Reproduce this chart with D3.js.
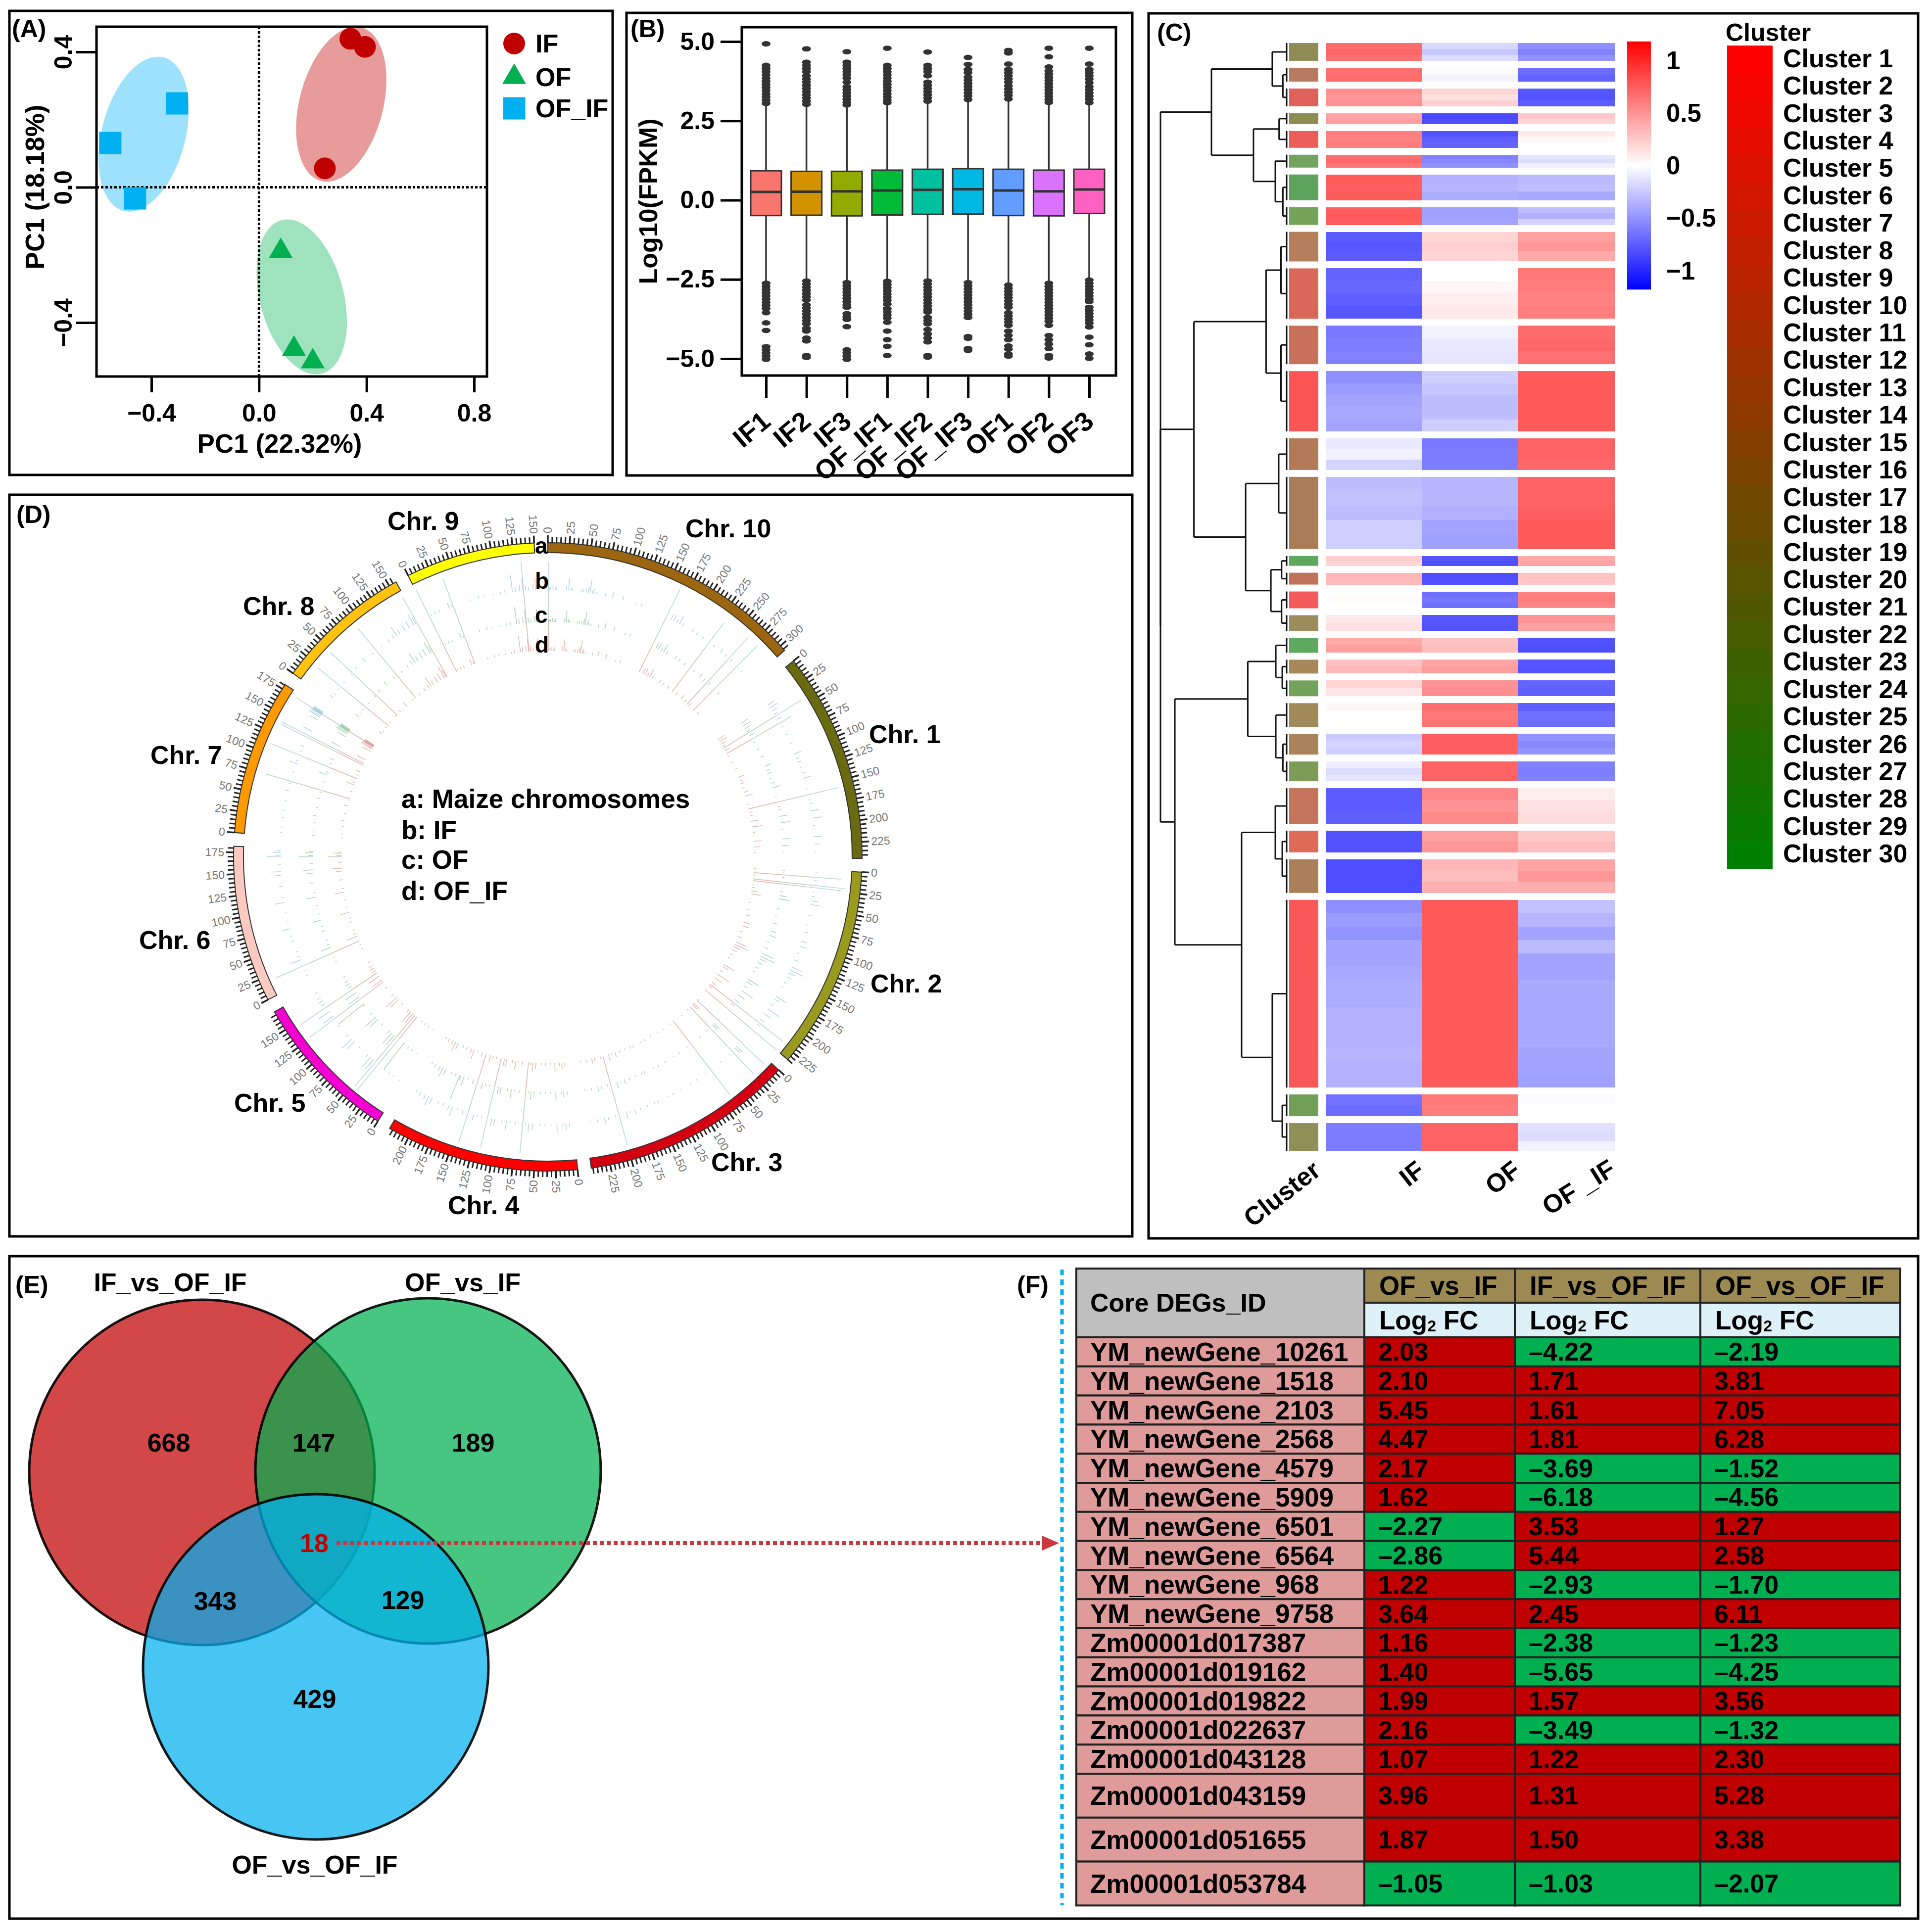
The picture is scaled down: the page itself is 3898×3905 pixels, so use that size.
<!DOCTYPE html>
<html><head><meta charset="utf-8">
<script src="https://cdn.jsdelivr.net/npm/d3@7/dist/d3.min.js"></script>
<style>html,body{margin:0;padding:0;background:#fff}svg{display:block}text{font-family:"Liberation Sans",Arial,sans-serif;font-weight:700;fill:#000}</style>
</head><body><svg id="c" width="3898" height="3905"></svg>
<script>
// ---------- (A) PCA ----------
const pcaGroups=["IF","OF","OF_IF"];
const pcaX=[[0.34,0.394,0.245],[0.081,0.13,0.20],[-0.305,-0.553,-0.461]];
const pcaY=[[0.439,0.415,0.056],[-0.189,-0.478,-0.515],[0.248,0.131,-0.033]];
const ellCx=[0.306,0.159,-0.429], ellCy=[0.2455,-0.324,0.157];
const ellHx=0.168, ellHy=0.229, ellTiltDeg=[18.5,-18.5,18.5];
const pcaTicksX=[-0.4,0,0.4,0.8], pcaTicksY=[-0.4,0,0.4];
// ---------- (B) boxes ----------
const sampleNames=["IF1","IF2","IF3","OF_IF1","OF_IF2","OF_IF3","OF1","OF2","OF3"];
const boxQ1=[-.487,-.477,-.496,-.468,-.449,-.439,-.487,-.496,-.42];
const boxMed=[.258,.267,.277,.305,.324,.344,.305,.277,.334];
const boxQ3=[.926,.907,.907,.945,.973,.992,.973,.945,.973];
const whiskHi=[3.02,2.97,2.98,3.03,3.07,3.12,3.14,3.04,3.03];
const whiskLo=[-2.58,-2.51,-2.56,-2.54,-2.51,-2.56,-2.64,-2.58,-2.49];
const outHi=[
[4.93,4.25,4.15,4.05,3.95,3.85,3.75,3.65,3.55,3.45,3.35,3.25,3.15,3.05],
[4.77,4.35,4.25,4.15,4.05,3.92,3.82,3.72,3.62,3.52,3.42,3.32,3.22,3.12,3.02],
[4.68,4.35,4.25,4.15,4.05,3.95,3.85,3.72,3.58,3.48,3.38,3.28,3.18,3.08,3.0],
[4.79,4.25,4.15,4.05,3.95,3.85,3.75,3.65,3.55,3.45,3.35,3.25,3.15,3.07],
[4.67,4.25,4.15,4.05,3.92,3.72,3.62,3.52,3.42,3.32,3.22,3.12],
[4.5,4.28,4.12,4.02,3.88,3.78,3.68,3.58,3.48,3.38,3.28,3.17],
[4.72,4.64,4.29,4.12,4.02,3.92,3.82,3.72,3.6,3.5,3.4,3.3,3.19],
[4.79,4.52,4.2,4.07,3.97,3.87,3.77,3.67,3.57,3.47,3.37,3.27,3.17,3.08],
[4.79,4.29,4.12,4.02,3.92,3.82,3.7,3.58,3.48,3.38,3.28,3.18,3.07]];
const outLo=[
[-2.62,-2.72,-2.82,-2.92,-3.02,-3.12,-3.22,-3.32,-3.42,-3.55,-3.87,-4.11,-4.62,-4.72,-4.82,-4.92,-5.02],
[-2.55,-2.65,-2.75,-2.85,-2.95,-3.05,-3.15,-3.3,-3.4,-3.5,-3.6,-3.7,-3.8,-3.9,-4.04,-4.13,-4.35,-4.44,-4.9,-4.96],
[-2.6,-2.7,-2.8,-2.9,-3,-3.1,-3.2,-3.3,-3.38,-3.58,-3.68,-3.76,-3.99,-4.72,-4.82,-4.92,-5.02],
[-2.56,-2.66,-2.76,-2.86,-2.96,-3.06,-3.16,-3.28,-3.42,-3.52,-3.62,-3.72,-3.85,-4.13,-4.4,-4.61,-4.9],
[-2.55,-2.65,-2.75,-2.85,-2.95,-3.05,-3.15,-3.25,-3.35,-3.45,-3.53,-3.7,-3.8,-3.9,-4.08,-4.22,-4.35,-4.47,-4.9,-4.95],
[-2.6,-2.7,-2.8,-2.9,-3,-3.1,-3.2,-3.3,-3.4,-3.5,-3.6,-3.7,-4.3,-4.36,-4.68,-4.74],
[-2.68,-2.78,-2.88,-2.98,-3.08,-3.18,-3.28,-3.38,-3.55,-3.65,-3.75,-3.85,-3.95,-4.13,-4.27,-4.4,-4.6,-4.7,-4.85,-4.92],
[-2.62,-2.72,-2.82,-2.92,-3.02,-3.12,-3.22,-3.32,-3.42,-3.52,-3.62,-3.72,-3.82,-3.95,-4.27,-4.4,-4.54,-4.68,-4.9,-4.98],
[-2.52,-2.62,-2.72,-2.82,-2.92,-3.02,-3.12,-3.2,-3.38,-3.48,-3.58,-3.68,-3.78,-3.88,-4.0,-4.32,-4.56,-4.85,-4.99]];
const boxTicks=[-5,-2.5,0,2.5,5];
const boxColors=["#F8766D","#D39200","#93AA00","#00BA38","#00C19F","#00B9E3","#619CFF","#DB72FB","#FF61C3"];
// ---------- (C) heatmap ----------
const heatCols=["IF","OF","OF_IF"];
const geneCounts=[18,14,18,11,17,13,26,18,30,51,39,61,32,73,10,12,17,16,15,14,16,24,21,20,36,22,34,190,22,28];
const clusterFill=["#8f8c55","#b87a5f","#e0605a","#8e8c50","#ea5f5a","#74a35f","#5ea45c","#74a35a","#b47f5a","#da6859","#c7705a","#fb5555","#b37a58","#ab7c58","#5fa75f","#c0735a","#f55a5a","#9c8c5c","#5fa85f","#a6885a","#72a25c","#a18a5a","#a9845a","#7d9c58","#c4745a","#de6a58","#ab7f5a","#fa5858","#729f58","#8f8f58"];
const heatRows=[
[[.68,-.18,-.52],[.7,-.26,-.58],[.66,-.16,-.5]],
[[.66,-.02,-.68],[.68,-.05,-.72]],
[[.52,.2,-.78],[.48,.14,-.8],[.5,.22,-.75]],
[[.42,-.84,.26],[.44,-.82,.2]],
[[.6,-.8,.1],[.58,-.74,.03],[.6,-.72,0]],
[[.66,-.58,-.12],[.7,-.56,-.16],[.64,-.52,-.08]],
[[.76,-.36,-.32],[.74,-.34,-.3],[.76,-.38,-.4]],
[[.74,-.44,-.3],[.76,-.44,-.36],[.74,-.42,-.2]],
[[-.76,.2,.44],[-.78,.22,.48],[-.76,.2,.4]],
[[-.72,0,.62],[-.7,.04,.6],[-.74,.08,.58],[-.78,.1,.6]],
[[-.62,-.06,.68],[-.6,-.1,.7],[-.58,-.12,.66]],
[[-.52,-.22,.76],[-.46,-.26,.76],[-.42,-.3,.76],[-.4,-.3,.76],[-.42,-.22,.76]],
[[-.1,-.62,.72],[-.06,-.6,.72],[-.2,-.6,.7]],
[[-.3,-.34,.72],[-.28,-.34,.72],[-.3,-.36,.74],[-.22,-.42,.76],[-.22,-.44,.76]],
[[.22,-.8,.4],[.2,-.82,.42]],
[[.34,-.82,.28],[.32,-.8,.26]],
[[0,-.66,.58],[.02,-.64,.6],[0,-.66,.56]],
[[.1,-.78,.5],[.14,-.8,.44]],
[[.4,.28,-.8],[.44,.3,-.82]],
[[.28,.42,-.78],[.34,.46,-.8]],
[[.2,.5,-.72],[.12,.52,-.74]],
[[.04,.66,-.74],[0,.62,-.66],[0,.64,-.68]],
[[-.24,.74,-.5],[-.2,.74,-.55],[-.22,.74,-.5]],
[[-.08,.72,-.58],[-.16,.72,-.6],[-.12,.72,-.58]],
[[-.76,.56,.08],[-.76,.5,.14],[-.74,.54,.16]],
[[-.8,.44,.26],[-.8,.48,.3]],
[[-.82,.34,.42],[-.82,.3,.48],[-.82,.36,.38]],
[[-.52,.76,-.28],[-.46,.76,-.34],[-.5,.76,-.42],[-.42,.76,-.32],[-.42,.76,-.42],[-.4,.76,-.42],[-.38,.76,-.4],[-.38,.76,-.4],[-.36,.76,-.4],[-.36,.76,-.4],[-.36,.76,-.4],[-.34,.76,-.42],[-.36,.76,-.42],[-.36,.76,-.44]],
[[-.65,.62,-.02],[-.68,.6,0]],
[[-.6,.72,-.14],[-.6,.72,-.16],[-.6,.72,-.06]]];
const dendroTree=[1,
 [.596,[.114,0,[.03,1,2]],[.263,[.06,3,4],[.09,5,[.03,6,7]]]],
 [1,[.735,[.163,[.045,8,9],[.045,10,11]],[.325,[.063,12,13],[.125,[.04,14,15],[.04,16,17]]]],
    [.886,[.308,[.086,18,[.035,19,20]],[.086,21,[.03,22,23]]],[.357,[.09,24,[.035,25,26]],[.114,27,[.035,28,29]]]]]];
const heatLegendTicks=[1,.5,0,-.5,-1];
// ---------- (D) circos ----------
const chrNames=["Chr. 10","Chr. 1","Chr. 2","Chr. 3","Chr. 4","Chr. 5","Chr. 6","Chr. 7","Chr. 8","Chr. 9"];
const chrLengths=[307,244,235,247,224,174,182,181,159,150];
const chrColors=["#9c6510","#6a6a10","#9a9a1f","#d40012","#ff0000","#f400d0","#fdcac2","#ff9900","#ffc30f","#ffff00"];
const shortHits=[
[[2,6],[4,5],[7,8],[10,4],[12,8],[25,8],[28,24],[31,8],[33,5],[45,5],[48,6],[52,8],[55,12],[57,26],[60,6],[62,10],[66,5],[78,6],[88,12],[102,10],[120,4],[128,6],[172,12],[176,14],[181,8],[185,18],[190,6],[205,8],[212,6],[222,6],[240,6],[252,10],[260,5],[270,8],[290,5]],
[[25,16],[30,18],[35,12],[40,8],[48,10],[60,4],[72,4],[85,6],[100,14],[107,6],[112,8],[120,4],[128,8],[135,16],[150,3],[165,4],[170,6],[180,16],[190,20],[200,4],[215,16],[225,12],[235,3]],
[[3,5],[7,3],[14,5],[30,3],[36,6],[42,14],[47,20],[62,4],[75,4],[85,8],[98,12],[105,14],[115,4],[125,8],[135,24],[140,30],[144,14],[150,10],[158,6],[165,4],[180,24],[184,12],[192,6],[200,28],[208,16],[217,10],[225,8]],
[[5,4],[15,16],[18,14],[30,3],[45,4],[70,3],[85,4],[95,3],[110,4],[122,5],[130,3],[145,6],[150,5],[160,4],[170,6],[178,10],[185,4],[190,14],[205,5],[215,6],[220,10],[230,6],[240,4]],
[[5,8],[10,14],[14,6],[22,18],[30,3],[38,5],[45,4],[55,12],[60,18],[64,5],[78,6],[85,4],[90,18],[96,5],[106,14],[110,16],[124,4],[130,6],[135,14],[150,8],[158,3],[165,20],[170,10],[178,6],[185,6],[195,14],[200,20],[205,10],[212,8],[218,5]],
[[5,3],[15,4],[22,5],[30,3],[50,26],[55,28],[60,6],[75,4],[85,22],[90,28],[98,6],[115,6],[130,24],[138,26],[150,8],[155,10],[160,8],[168,6]],
[[5,4],[12,3],[28,22],[33,6],[40,4],[55,6],[62,4],[72,18],[82,4],[95,3],[108,20],[115,4],[130,8],[145,12],[150,20],[160,6],[170,28],[172,10],[176,16],[178,8]],
[[5,4],[12,3],[25,3],[35,6],[48,4],[62,8],[72,3],[88,4],[100,18],[104,6],[118,4],[125,8],[148,20],[165,18],[170,26],[172,24],[174,24],[175,22],[176,20],[177,22],[178,22]],
[[5,8],[10,3],[18,4],[30,3],[45,4],[55,6],[70,10],[85,4],[100,4],[112,6],[120,8],[125,22],[130,10],[138,14],[145,16],[152,26],[155,16]],
[[4,4],[10,6],[16,5],[30,12],[34,6],[60,4],[72,6],[80,4],[92,3],[102,4],[108,6],[118,34],[122,10],[128,12],[132,26],[136,10],[140,6],[146,12],[149,26]]];
const longHits=[
[[1,180,0],[165,186,0],[232,176,0],[266,182,0],[281,185,0]],
[[43,185,0],[54,150,0],[158,186,0]],
[[10,177,0],[21,186,0],[24,179,0],[222,187,0],[235,188,0]],
[[7,188,0],[24,188,0],[62,188,0],[200,187,0]],
[[68,185,0],[116,186,0],[143,188,0],[172,111,1]],
[[31,125,1],[41,191,0],[46,188,0],[117,124,1],[126,187,0],[145,186,0]],
[[19,184,0],[139,56,2]],
[[75,177,0],[112,187,0],[138,185,0],[141,185,0],[175,185,0]],
[[23,185,0],[47,186,0],[91,184,0],[157,184,0]],
[[1,184,0],[36,184,0],[133,183,0]]];
const trackNames=["d","c","b"];
const trackColors=["#cf877d","#74b48a","#7cb6cb"];
const longColors=["#ddb0aa","#b6cdba","#b4d3db"];
const circosLegend=["a: Maize chromosomes","b: IF","c: OF","d: OF_IF"];
// ---------- (E) Venn ----------
const vennSets=["IF_vs_OF_IF","OF_vs_IF","OF_vs_OF_IF"];
const vennCounts=[668,147,189,18,343,129,429];
// ---------- (F) table ----------
const geneIds=["YM_newGene_10261","YM_newGene_1518","YM_newGene_2103","YM_newGene_2568","YM_newGene_4579","YM_newGene_5909","YM_newGene_6501","YM_newGene_6564","YM_newGene_968","YM_newGene_9758","Zm00001d017387","Zm00001d019162","Zm00001d019822","Zm00001d022637","Zm00001d043128","Zm00001d043159","Zm00001d051655","Zm00001d053784"];
const ofVsIf=[2.03,2.10,5.45,4.47,2.17,1.62,-2.27,-2.86,1.22,3.64,1.16,1.40,1.99,2.16,1.07,3.96,1.87,-1.05];
const ifVsOfIf=[-4.22,1.71,1.61,1.81,-3.69,-6.18,3.53,5.44,-2.93,2.45,-2.38,-5.65,1.57,-3.49,1.22,1.31,1.50,-1.03];
const ofVsOfIf=[-2.19,3.81,7.05,6.28,-1.52,-4.56,1.27,2.58,-1.70,6.11,-1.23,-4.25,3.56,-1.32,2.30,5.28,3.38,-2.07];
const tableHeads=["OF_vs_IF","IF_vs_OF_IF","OF_vs_OF_IF"];

// ========== drawing ==========
const svg=d3.select("#c");
function txt(g,x,y,s,size,anchor,rot,fill){
  const t=g.append("text").attr("font-size",size).attr("text-anchor",anchor||"start").attr("dominant-baseline","central").text(s);
  t.attr("transform",`translate(${x},${y})`+(rot?` rotate(${rot})`:""));
  if(fill)t.style("fill",fill);
  return t;
}
function frame(x0,y0,x1,y1){svg.append("rect").attr("x",x0).attr("y",y0).attr("width",x1-x0).attr("height",y1-y0).attr("fill","none").attr("stroke","#000").attr("stroke-width",5);}
frame(19,22,1238,960);frame(1266,26,2288,961);frame(2321,27,3876,2503);frame(19,1000,2288,2499);frame(19,2539,3876,3878);
txt(svg,24,58,"(A)",50);txt(svg,1274,58,"(B)",50);txt(svg,2338,66,"(C)",50);txt(svg,33,1040,"(D)",50);txt(svg,31,2597,"(E)",50);txt(svg,2055,2597,"(F)",50);

// --- A
(function(){
 const g=svg.append("g");
 const x=d3.scaleLinear([-0.4,0.8],[306,958]), y=d3.scaleLinear([-0.4,0.4],[652,105]);
 const pcaFill=["#c00000","#00b050","#00b0f0"], ellFill=["#e89b9b","#9ee3bd","#9de1fd"];
 const L=195,R=984,T=54,B=761;
 const ts=d3.range(0,2*Math.PI+.01,.04);
 pcaGroups.forEach((n,i)=>{
   const th=ellTiltDeg[i]*Math.PI/180;
   const line=d3.line().x(t=>x(ellCx[i]+ellHx*Math.cos(t))).y(t=>y(ellCy[i]+ellHy*Math.sin(t+th))).curve(d3.curveLinearClosed);
   g.append("path").attr("d",line(ts)).attr("fill",ellFill[i]);
 });
 g.append("line").attr("x1",x(0)).attr("x2",x(0)).attr("y1",T).attr("y2",B).attr("stroke","#000").attr("stroke-width",5).attr("stroke-dasharray","5 4");
 g.append("line").attr("x1",L).attr("x2",R).attr("y1",y(0)).attr("y2",y(0)).attr("stroke","#000").attr("stroke-width",5).attr("stroke-dasharray","5 4");
 const sym=[d3.symbol(d3.symbolCircle,1520),d3.symbol(d3.symbolTriangle,1000),d3.symbol(d3.symbolSquare,2025)];
 pcaGroups.forEach((n,i)=>{
   g.selectAll(null).data(pcaX[i]).enter().append("path").attr("d",sym[i]()).attr("fill",pcaFill[i])
     .attr("transform",(d,j)=>`translate(${x(d)},${y(pcaY[i][j])})`);
   g.append("path").attr("d",sym[i]()).attr("fill",pcaFill[i]).attr("transform",`translate(1039,${[88,156,219][i]})`);
   txt(g,1082,[88,156,219][i],n,52);
 });
 g.append("rect").attr("x",L).attr("y",T).attr("width",R-L).attr("height",B-T).attr("fill","none").attr("stroke","#000").attr("stroke-width",5);
 const ax=g.append("g").attr("transform",`translate(0,${B})`).call(d3.axisBottom(x).tickValues(pcaTicksX).tickFormat(d3.format(".1f")).tickSize(32).tickPadding(23));
 ax.select(".domain").remove();ax.selectAll("line").attr("stroke","#000").attr("stroke-width",5);ax.selectAll("text").attr("font-size",50);
 const ay=g.append("g").attr("transform",`translate(${L},0)`).call(d3.axisLeft(y).tickValues(pcaTicksY).tickFormat(d3.format(".1f")).tickSize(41).tickPadding(0));
 ay.select(".domain").remove();ay.selectAll("line").attr("stroke","#000").attr("stroke-width",5);
 ay.selectAll("text").attr("font-size",50).attr("text-anchor","middle").attr("dominant-baseline","central").attr("dy",null).attr("x",null)
   .attr("transform",d=>`translate(-67,0) rotate(-90)`);
 txt(g,565,896,"PC1 (22.32%)",53,"middle");
 txt(g,70,378,"PC1 (18.18%)",53,"middle",-90);
})();

// --- B
(function(){
 const g=svg.append("g");
 const x=d3.scalePoint(sampleNames,[1548,2201]), y=d3.scaleLinear([-5,5],[725,84]);
 const bw=62;
 sampleNames.forEach((n,i)=>{
  const cx=x(n);
  g.append("line").attr("x1",cx).attr("x2",cx).attr("y1",y(whiskHi[i])).attr("y2",y(whiskLo[i])).attr("stroke","#333").attr("stroke-width",3.5);
  g.selectAll(null).data(outHi[i].concat(outLo[i])).enter().append("ellipse").attr("cx",cx).attr("cy",d=>y(d)).attr("rx",9).attr("ry",5.5).attr("fill","#333");
  g.append("rect").attr("x",cx-bw/2).attr("y",y(boxQ3[i])).attr("width",bw).attr("height",y(boxQ1[i])-y(boxQ3[i])).attr("fill",boxColors[i]).attr("stroke","#333").attr("stroke-width",3);
  g.append("line").attr("x1",cx-bw/2).attr("x2",cx+bw/2).attr("y1",y(boxMed[i])).attr("y2",y(boxMed[i])).attr("stroke","#333").attr("stroke-width",5);
 });
 g.append("rect").attr("x",1499).attr("y",55).attr("width",756).attr("height",704).attr("fill","none").attr("stroke","#000").attr("stroke-width",5);
 const ax=g.append("g").attr("transform","translate(0,759)").call(d3.axisBottom(x).tickSize(45));
 ax.select(".domain").remove();ax.selectAll("line").attr("stroke","#000").attr("stroke-width",5);
 ax.selectAll("text").attr("font-size",54).attr("text-anchor","end").attr("dominant-baseline","auto").attr("dy",null).attr("y",null)
  .attr("transform",()=>"translate(12,98) rotate(-40)");
 const ay=g.append("g").attr("transform","translate(1499,0)").call(d3.axisLeft(y).tickValues(boxTicks).tickFormat(d3.format(".1f")).tickSize(43).tickPadding(12));
 ay.select(".domain").remove();ay.selectAll("line").attr("stroke","#000").attr("stroke-width",5);ay.selectAll("text").attr("font-size",50);
 txt(g,1310,407,"Log10(FPKM)",52,"middle",-90);
})();

// --- C
(function(){
 const g=svg.append("g");
 const colorOf=d3.scaleLinear([-1.18,0,1.18],["#0000ff","#ffffff","#ff0000"]);
 const gap=14, top=87, bottom=2326;
 const total=d3.sum(geneCounts);
 const yC=d3.scaleLinear([0,total],[0,bottom-top-gap*(geneCounts.length-1)]);
 let acc=0; const grp=geneCounts.map((c,i)=>{const a=top+yC(acc)+i*gap;acc+=c;return{top:a,bot:top+yC(acc)+i*gap};});
 const colX=d3.scaleBand(heatCols,[2679,3263]);
 grp.forEach((b,i)=>{
  g.append("rect").attr("x",2605).attr("width",59).attr("y",b.top).attr("height",b.bot-b.top).attr("fill",clusterFill[i]);
  const rows=heatRows[i], rh=(b.bot-b.top)/rows.length;
  rows.forEach((r,k)=>heatCols.forEach((c,j)=>{
    g.append("rect").attr("x",colX(c)).attr("width",colX.bandwidth()).attr("y",b.top+k*rh).attr("height",rh+(k<rows.length-1?.6:0)).attr("fill",colorOf(r[j])).attr("shape-rendering","crispEdges");
  }));
 });
 // dendrogram
 const hx=d3.scaleLinear([0,1],[2600,2345]);
 const st={fill:"none",stroke:"#111","stroke-width":3};
 function seg(x1,y1,x2,y2){const l=g.append("line").attr("x1",x1).attr("x2",x2).attr("y1",y1).attr("y2",y2);Object.entries(st).forEach(([k,v])=>l.attr(k,v));}
 function walk(n){
   if(typeof n==="number"){const b=grp[n];seg(2600,b.top,2600,b.bot);return{x:2600,y:(b.top+b.bot)/2};}
   const a=walk(n[1]),c=walk(n[2]),X=hx(n[0]);
   seg(X,a.y,X,c.y);seg(X,a.y,a.x,a.y);seg(X,c.y,c.x,c.y);
   return{x:X,y:(a.y+c.y)/2};
 }
 walk(dendroTree);
 // colour legend
 const defs=svg.append("defs");const lg=defs.append("linearGradient").attr("id","hg").attr("x1",0).attr("x2",0).attr("y1",0).attr("y2",1);
 [1.18,0,-1.18].forEach((v,i)=>lg.append("stop").attr("offset",i/2).attr("stop-color",colorOf(v)));
 const ly=d3.scaleLinear([-1,1],[547,122]);
 g.append("rect").attr("x",3288).attr("y",ly(1.18)).attr("width",48).attr("height",ly(-1.18)-ly(1.18)).attr("fill","url(#hg)");
 heatLegendTicks.forEach(t=>txt(g,3367,ly(t),d3.format("")(t),51));
 // cluster legend
 txt(g,3487,66,"Cluster",50);
 const cy=d3.scaleBand(d3.range(1,31),[92,1755]);
 const cc=d3.scaleLinear([1,30],["#ff0000","#008000"]);
 cy.domain().forEach(k=>{
   g.append("rect").attr("x",3490).attr("width",92).attr("y",cy(k)).attr("height",cy.bandwidth()+.5).attr("fill",cc(k)).attr("shape-rendering","crispEdges");
   txt(g,3603,cy(k)+cy.bandwidth()/2-2,"Cluster "+k,52);
 });
 // column labels
 const lab=(x,s,a)=>g.append("text").attr("font-size",52).attr("text-anchor","end").attr("transform",`translate(${x},2372) rotate(${a})`).text(s);
 lab(2672,"Cluster",-38);
 lab(2882,"IF",-38);lab(3076,"OF",-38);lab(3268,"OF _IF",-32);
})();

// --- D
(function(){
 const g=svg.append("g").attr("transform","translate(1107,1732)");
 const gapDeg=2.5, perMb=(360-gapDeg*chrLengths.length)/d3.sum(chrLengths);
 let a0=0;
 const R0=615,R1=635;
 const rad=d=>d*Math.PI/180;
 const polar=(deg,r)=>[r*Math.sin(rad(deg)),-r*Math.cos(rad(deg))];
 const arc=d3.arc().innerRadius(R0).outerRadius(R1);
 const baseR=[417,475,540];
 function ray(deg,r0,r1,color,w,op){const p=polar(deg,r0),q=polar(deg,r1);
   g.append("line").attr("x1",p[0]).attr("y1",p[1]).attr("x2",q[0]).attr("y2",q[1]).attr("stroke",color).attr("stroke-width",w).attr("opacity",op);}
 chrNames.forEach((n,i)=>{
   const ang=d3.scaleLinear([0,chrLengths[i]],[a0,a0+chrLengths[i]*perMb]);
   a0+=chrLengths[i]*perMb+gapDeg;
   g.append("path").attr("d",arc({startAngle:rad(ang(0)),endAngle:rad(ang(chrLengths[i]))})).attr("fill",chrColors[i]).attr("stroke","#333").attr("stroke-width",2);
   d3.range(0,chrLengths[i]+.1,5).forEach(mb=>{
     const major=mb%25===0; ray(ang(mb),R1,major?650:647,"#222",major?3.5:3,1);
     if(major){
       const d=ang(mb),p=polar(d,654),right=d<180;
       g.append("text").attr("font-size",23).style("font-weight",400).style("fill","#777").attr("text-anchor",right?"start":"end").attr("dominant-baseline","central")
        .attr("transform",`translate(${p[0]},${p[1]}) rotate(${right?d-90:d+90})`).text(mb);
     }
   });
   longHits[i].forEach(h=>{
     const d=ang(h[0]),start=baseR[h[2]],end=baseR[0]+h[1];
     baseR.forEach((b,k)=>{
       const nx=k<2?baseR[k+1]:1e4, s=Math.max(b,start), e=Math.min(nx,end);
       if(e>s)ray(d,s,e,longColors[k],1.7,.85);
     });
   });
   shortHits[i].forEach(h=>{
     baseR.forEach((b,k)=>ray(ang(h[0]),b,b+h[1],trackColors[k],1.6,.55));
   });
 });
 const chrLabelX=[1385,1756,1759,1437,905,473,281,304,491,783],chrLabelY=[1068,1484,1988,2349,2436,2229,1900,1526,1225,1053];
 chrNames.forEach((n,i)=>txt(svg,chrLabelX[i],chrLabelY[i],n,52));
 circosLegend.forEach((s,i)=>txt(svg,811,[1614,1677,1737,1800][i],s,53));
 ["a","b","c","d"].forEach((s,i)=>txt(svg,1081,[1103,1174,1243,1303][i],s,46));
})();

// --- E
(function(){
 const g=svg.append("g");
 const cols=["#c00000","#00b050","#00b0f0"],cx=[408,865,638],cy=[2976,2973,3369];
 vennSets.forEach((n,i)=>g.append("circle").attr("cx",cx[i]).attr("cy",cy[i]).attr("r",349).attr("fill",cols[i]).attr("fill-opacity",.72).attr("stroke","#000").attr("stroke-width",5).attr("stroke-opacity",.9));
 [[344,2592],[935,2592],[636,3769]].forEach((p,i)=>txt(g,p[0],p[1],vennSets[i],52,"middle"));
 const pos=[[341,2916],[634,2916],[956,2916],[635,3119],[435,3236],[814,3234],[636,3434]];
 vennCounts.forEach((c,i)=>txt(g,pos[i][0],pos[i][1],c,52,"middle",0,c===18?"#c00000":null));
 g.append("line").attr("x1",680).attr("x2",2112).attr("y1",3119).attr("y2",3119).attr("stroke","#c8383e").attr("stroke-width",8).attr("stroke-dasharray","8 6");
 g.append("path").attr("d","M2106,3104L2140,3119L2106,3134Z").attr("fill","#c8383e");
 g.append("line").attr("x1",2146).attr("x2",2146).attr("y1",2566).attr("y2",3850).attr("stroke","#00b0f0").attr("stroke-width",7).attr("stroke-dasharray","11 9");
})();

// --- F
(function(){
 const g=svg.append("g");
 const xEdges=[2175,2757,3061,3436,3840];
 const rowTop=[2703];geneIds.forEach((id,i)=>rowTop.push(rowTop[i]+(i<15?58.8:88.8)));
 const cols=[ofVsIf,ifVsOfIf,ofVsOfIf];
 const f=d=>d3.format(".2f")(d).replace("−","–").replace("-","–");
 const border={stroke:"#222","stroke-width":4};
 function cell(x0,y0,x1,y1,fill){const r=g.append("rect").attr("x",x0).attr("y",y0).attr("width",x1-x0).attr("height",y1-y0).attr("fill",fill);Object.entries(border).forEach(([k,v])=>r.attr(k,v));}
 cell(xEdges[0],2564,xEdges[1],2703,"#bfbfbf");
 txt(g,2203,2633,"Core DEGs_ID",52);
 tableHeads.forEach((h,j)=>{
  cell(xEdges[j+1],2564,xEdges[j+2],2633,"#9c8a52");cell(xEdges[j+1],2633,xEdges[j+2],2703,"#def1f8");
  txt(g,xEdges[j+1]+30,2598,h,53);
  const t=txt(g,xEdges[j+1]+30,2668,"Log",53);t.append("tspan").attr("font-size",32).attr("dy",12).text("2");t.append("tspan").attr("dy",-12).text(" FC");
 });
 geneIds.forEach((id,i)=>{
  cell(xEdges[0],rowTop[i],xEdges[1],rowTop[i+1],"#df9a9a");
  txt(g,2203,(rowTop[i]+rowTop[i+1])/2,id,53);
  cols.forEach((c,j)=>{
   cell(xEdges[j+1],rowTop[i],xEdges[j+2],rowTop[i+1],c[i]>=0?"#c00000":"#00b050");
   txt(g,xEdges[j+1]+28,(rowTop[i]+rowTop[i+1])/2,f(c[i]),52);
  });
 });
})();
</script></body></html>
